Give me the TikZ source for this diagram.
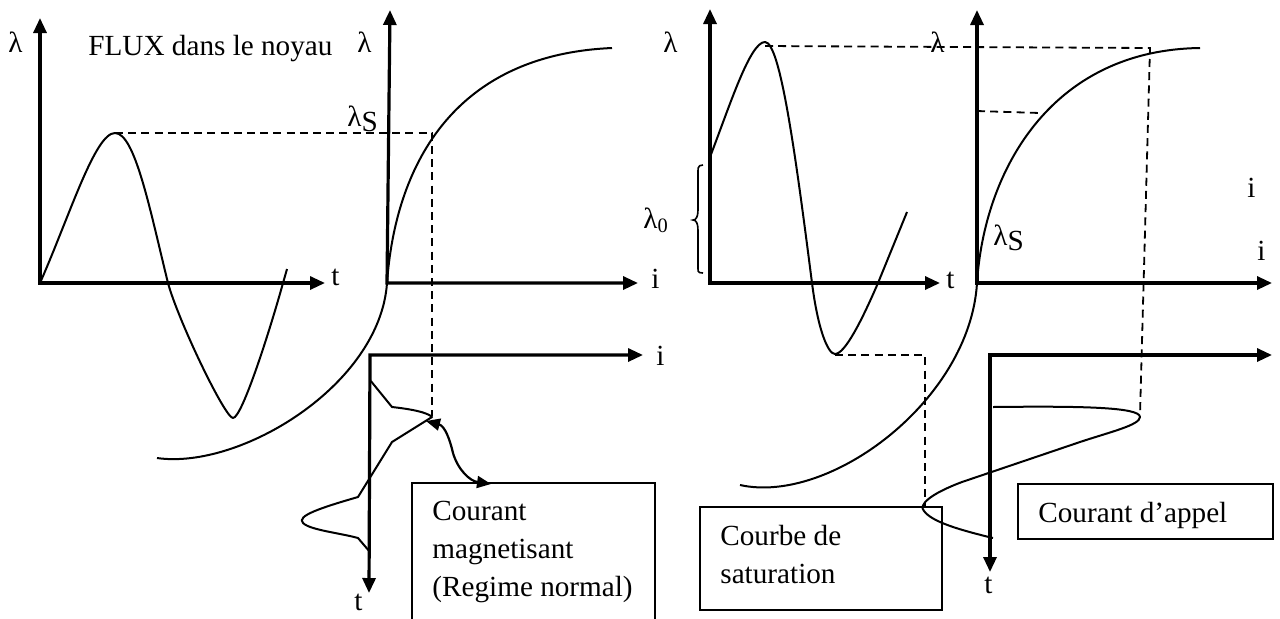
\documentclass[tikz,border=0pt]{standalone}
\usepackage{fontspec}
\setmainfont{Liberation Serif}
\usetikzlibrary{arrows.meta}
\begin{document}
\begin{tikzpicture}[x=0.5pt,y=-0.5pt,
  axes/.style={line width=1.6pt,{Triangle[length=7.5pt,width=6.5pt]}-{Triangle[length=7.5pt,width=6.5pt]}},
  crv/.style={line width=1pt,line join=round},
  dsh/.style={line width=0.9pt,dash pattern=on 4pt off 2.6pt},
  boxline/.style={line width=1.1pt},
  lbl/.style={inner sep=0pt,anchor=base west,font=\fontsize{14.6}{17}\selectfont},
  conn/.style={line width=1.1pt,{Triangle[length=7pt,width=6pt]}-{Triangle[length=7pt,width=6pt]}}]
\useasboundingbox (0,0) rectangle (1280,618);
\clip (0,0) rectangle (1280,618);

% ---------- coordinates of axes
\coordinate (o1) at (40,283);  \coordinate (y1) at (40,18);  \coordinate (x1) at (325,283);
\coordinate (o2) at (387,283); \coordinate (y2) at (390,10); \coordinate (x2) at (638,283);
\coordinate (o3) at (710,283); \coordinate (y3) at (710,9);  \coordinate (x3) at (940,283);
\coordinate (o4) at (977,283); \coordinate (y4) at (977,10); \coordinate (x4) at (1272,283);
\coordinate (o5) at (370,355); \coordinate (x5) at (643,355); \coordinate (t5) at (369,593);
\coordinate (o6) at (990,355); \coordinate (x6) at (1272,355); \coordinate (t6) at (990,572);

\draw[axes] (y1) -- (o1) -- (x1);
\draw[axes] (y2) -- (o2) -- (x2);
\draw[axes] (y3) -- (o3) -- (x3);
\draw[axes] (y4) -- (o4) -- (x4);
\draw[axes] (x5) -- (o5) -- (t5);
\draw[axes] (x6) -- (o6) -- (t6);

% ---------- flux, normal regime
\coordinate (pk1) at (115,133);
\draw[crv] (o1) .. controls (70,215) and (95,133) .. (pk1)
  .. controls (135,133) and (150,210) .. (168,283)
  .. controls (178,320) and (225,418) .. (233,418)
  .. controls (242,418) and (270,330) .. (283,283) -- (287,269);

% ---------- saturation curve, middle
\draw[crv] (157,458) .. controls (240,470) and (380,385) .. (o2)
  .. controls (395,170) and (450,55) .. (612,48);

% ---------- magnetising current
\draw[crv] (370,380) -- (392,407) .. controls (410,409) and (427,412) .. (432,417)
  -- (392,442) -- (358,497) .. controls (320,508) and (296,516) .. (303,523)
  .. controls (310,530) and (340,533) .. (358,538) -- (370,552);

% dashed projections (normal regime)
\coordinate (ls) at (432,133);
\coordinate (im) at (432,416);
\draw[dsh] (pk1) -- (ls) -- (im);

% ---------- flux, inrush
\coordinate (pk3) at (765,42);
\coordinate (mn3) at (835,354);
\draw[crv] (710,157) .. controls (730,105) and (750,42) .. (pk3)
  .. controls (780,42) and (795,150) .. (812,283)
  .. controls (818,330) and (828,354) .. (mn3)
  .. controls (845,354) and (862,320) .. (878,283) -- (907,212);

% ---------- saturation curve, right
\draw[crv] (740,485) .. controls (830,505) and (970,400) .. (o4)
  .. controls (984,172) and (1050,50) .. (1200,48);

% ---------- inrush current
\draw[crv] (993,407) .. controls (1080,406) and (1140,407) .. (1140,417)
  .. controls (1140,425) and (1110,432) .. (1080,442) -- (962,482)
  .. controls (930,494) and (918,505) .. (924,511)
  .. controls (932,522) and (960,530) .. (993,538);

% dashed projections (inrush)
\coordinate (pk3d) at (765,46);
\coordinate (lm) at (1150,48);
\coordinate (ip) at (1140,415);
\draw[dsh] (pk3d) -- (lm) -- (ip);
\coordinate (la) at (977,111);
\coordinate (lb) at (1040,113);
\draw[dsh] (la) -- (lb);
\coordinate (mn3d) at (835,355);
\coordinate (mc) at (925,355);
\coordinate (mi) at (925,508);
\draw[dsh] (mn3d) -- (mc) -- (mi);

% brace lambda_0
\draw[line width=0.8pt] (703,165) .. controls (697,165) and (698,169) .. (698,176) -- (698,210)
  .. controls (698,217) and (696,220) .. (693,220)
  .. controls (696,220) and (698,223) .. (698,230) -- (698,264)
  .. controls (698,271) and (697,273) .. (703,273);

% ---------- boxes
\coordinate (b1a) at (412,483); \coordinate (b1b) at (655,640);
\coordinate (b2a) at (700,507); \coordinate (b2b) at (942,610);
\coordinate (b3a) at (1018,484); \coordinate (b3b) at (1273,539);
\draw[boxline] (b1a) rectangle (b1b);
\draw[boxline] (b2a) rectangle (b2b);
\draw[boxline] (b3a) rectangle (b3b);

% curved pointer to the magnetising current
\coordinate (cs) at (426,421);
\coordinate (ce) at (491,484);
\draw[conn] (cs) .. controls (445,426) and (450,440) .. (453,453)
  .. controls (458,470) and (470,481) .. (ce);

% ---------- labels
\node[lbl] (lam1) at (8,52) {λ};
\node[lbl] (flux) at (88,55) {FLUX dans le noyau};
\node[lbl] (t1) at (331,285) {t};
\node[lbl] (lam2) at (357,52) {λ};
\node[lbl] (lamS1) at (347,126) {λ\raisebox{-2.5pt}{S}};
\node[lbl] (i2) at (651,288) {i};
\node[lbl] (i5) at (656,365) {i};
\node[lbl] (t5l) at (354,610) {t};
\node[lbl] (c1) at (432,520) {Courant};
\node[lbl] (c2) at (432,558) {magnetisant};
\node[lbl] (c3) at (432,596) {(Regime normal)};

\node[lbl] (lam3) at (663,52) {λ};
\node[lbl] (lam0) at (643,228) {λ\textsubscript{0}};
\node[lbl] (t3) at (946,288) {t};
\node[lbl] (lam4) at (930,52) {λ};
\node[lbl] (lamS2) at (993,245) {λ\raisebox{-2.5pt}{S}};
\node[lbl] (i4a) at (1247,197) {i};
\node[lbl] (i4b) at (1257,260) {i};
\node[lbl] (t6l) at (984,593) {t};
\node[lbl] (s1) at (720,545) {Courbe de};
\node[lbl] (s2) at (720,583) {saturation};
\node[lbl] (ap) at (1038,522) {Courant d’appel};
\end{tikzpicture}
\end{document}
